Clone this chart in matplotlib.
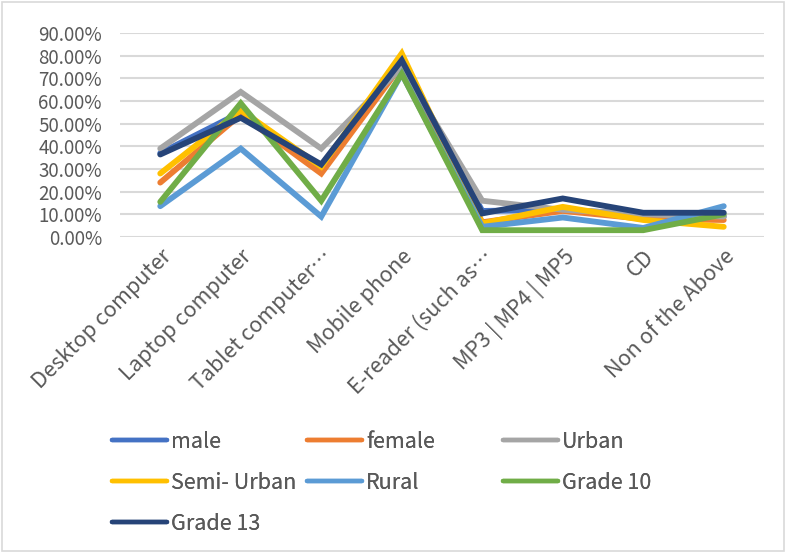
import matplotlib
matplotlib.use("Agg")
import matplotlib.pyplot as plt
from matplotlib.ticker import PercentFormatter, MultipleLocator
from matplotlib.patches import Rectangle

plt.rcParams['font.family'] = ['Noto Sans CJK SC', 'DejaVu Sans']
plt.rcParams['font.weight'] = 'light'

categories = ["Desktop computer", "Laptop computer", "Tablet computer…", "Mobile phone",
              "E-reader (such as…", "MP3 | MP4 | MP5", "CD", "Non of the Above"]

male        = [37.0, 55.0, 30.0, 77.0, 11.5, 12.0, 10.0, 9.0]
female      = [24.0, 54.0, 28.0, 76.0, 6.5, 11.5, 8.0, 7.5]
urban       = [39.0, 64.0, 39.0, 75.0, 16.0, 12.0, 10.0, 9.0]
semi_urban  = [28.0, 56.0, 31.0, 81.0, 6.0, 13.3, 7.5, 4.5]
rural       = [13.6, 39.0, 9.0, 72.0, 4.5, 8.6, 4.0, 13.6]
grade10     = [15.5, 59.0, 16.0, 72.0, 3.0, 3.0, 3.0, 10.0]
grade13     = [36.4, 52.6, 32.0, 78.0, 10.4, 17.0, 10.7, 10.7]

series = [("male", male, "#4472C4"),
          ("female", female, "#ED7D31"),
          ("Urban", urban, "#A5A5A5"),
          ("Semi- Urban", semi_urban, "#FFC000"),
          ("Rural", rural, "#5B9BD5"),
          ("Grade 10", grade10, "#70AD47"),
          ("Grade 13", grade13, "#264478")]

TXT = '#595959'
fig = plt.figure(figsize=(7.86, 5.53), dpi=100)
ax = fig.add_axes([120/786, 1-237/553, 644/786, 204/553])

x = list(range(len(categories)))
handles = []
for name, vals, col in series:
    h, = ax.plot(x, vals, color=col, lw=4.2, solid_joinstyle='miter',
                 solid_capstyle='round', label=name)
    handles.append(h)

ax.set_xlim(-0.5, len(categories) - 0.5)
ax.set_ylim(0, 90)
ax.yaxis.set_major_locator(MultipleLocator(10))
ax.yaxis.set_major_formatter(PercentFormatter(decimals=2))
ax.grid(axis='y', color='#D9D9D9', lw=1.5)
ax.set_axisbelow(True)
for s in ax.spines.values():
    s.set_visible(False)
ax.tick_params(axis='both', length=0, colors=TXT)
ax.tick_params(axis='y', pad=13, labelsize=13.5)
ax.tick_params(axis='x', pad=6, labelsize=15.5)
ax.set_xticks(x)
ax.set_xticklabels(categories, rotation=45, ha='right', rotation_mode='anchor')

# legend: three equal-width columns filled row by row
ncol = 3
col_x = [112/786, 307/786, 503/786]
for c in range(ncol):
    hs = handles[c::ncol]
    leg = fig.legend(handles=hs, labels=[h.get_label() for h in hs], loc='upper left',
                     bbox_to_anchor=(col_x[c], 1-431/553), frameon=False,
                     fontsize=15.5, labelcolor=TXT, handlelength=2.55,
                     handletextpad=0.18, labelspacing=0.88, borderpad=0,
                     borderaxespad=0)
    for lh in leg.get_lines():
        lh.set_linewidth(3.2)
        lh.set_solid_capstyle('round')
    fig.add_artist(leg)

fig.patches.append(Rectangle((2/786, 2/553), 782/786, 549/553, transform=fig.transFigure,
                             fill=False, edgecolor='#D9D9D9', lw=1.2))

fig.savefig("out.png", dpi=100)
